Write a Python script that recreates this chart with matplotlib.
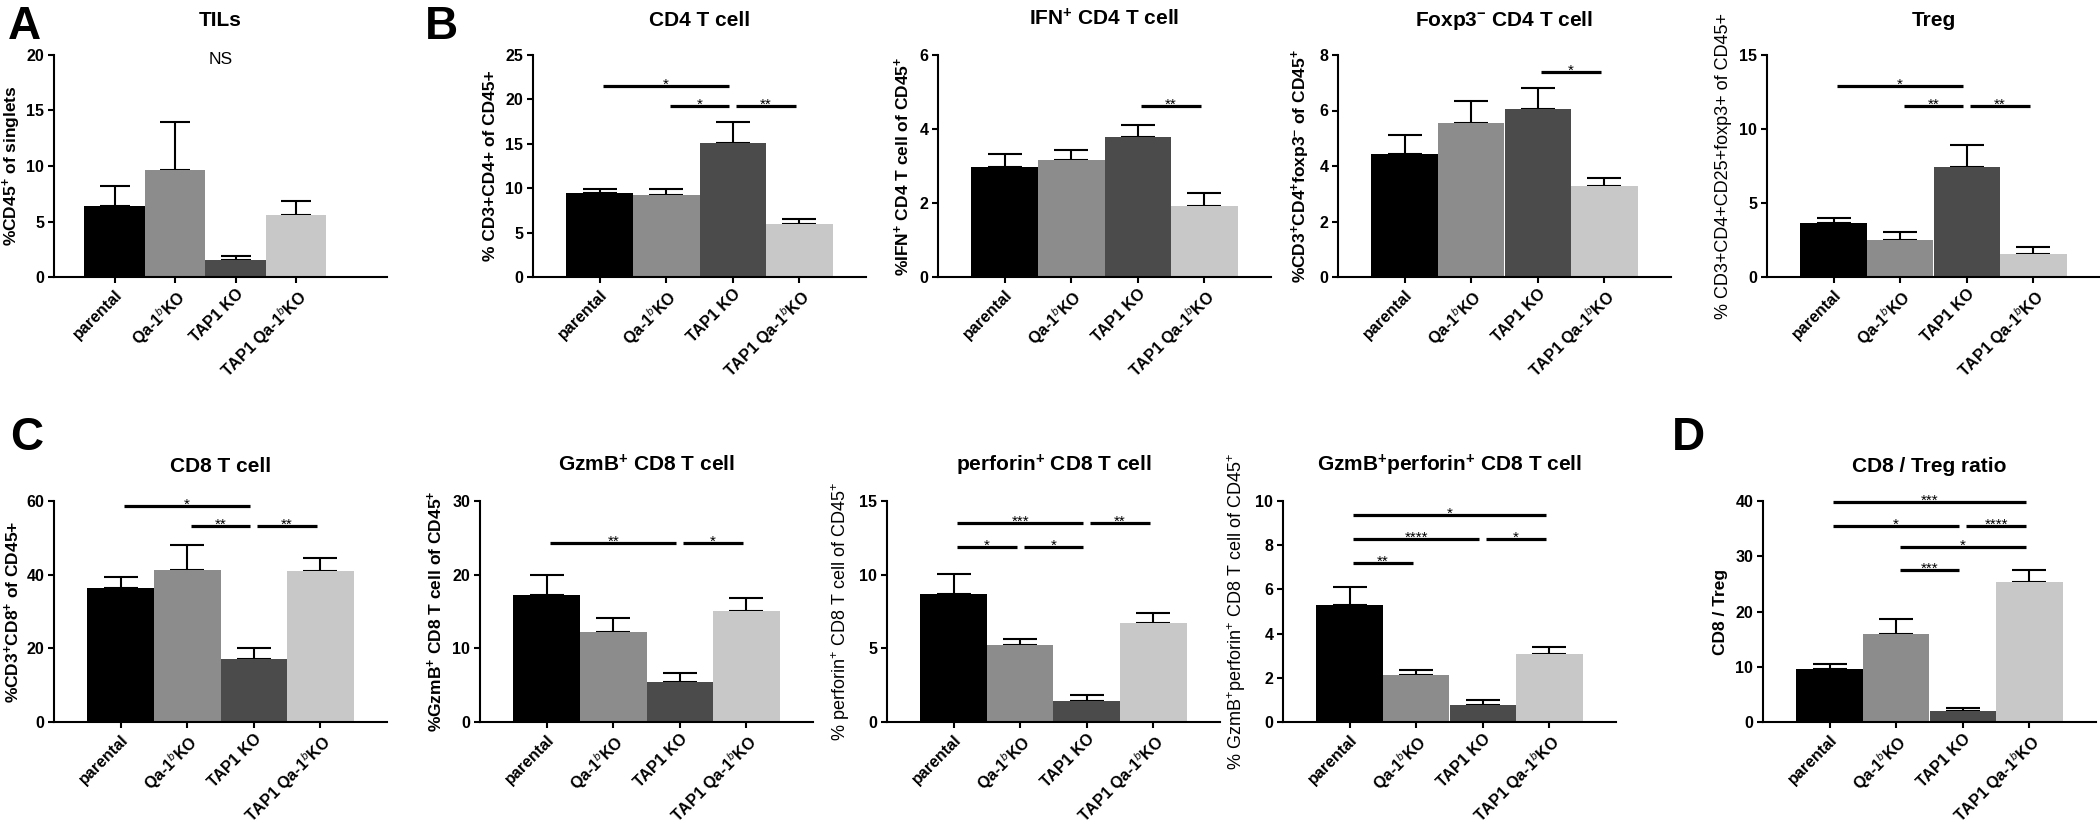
import matplotlib
matplotlib.use("Agg")
import matplotlib.pyplot as plt
import numpy as np

plt.rcParams["font.family"] = ["Liberation Sans", "DejaVu Sans"]
plt.rcParams["mathtext.fontset"] = "custom"
plt.rcParams["mathtext.rm"] = "Liberation Sans"
plt.rcParams["mathtext.bf"] = "Liberation Sans:bold"
plt.rcParams["mathtext.it"] = "Liberation Sans:italic"

groups = ["parental", r"Qa-1$^{b}$KO", "TAP1 KO", r"TAP1 Qa-1$^{b}$KO"]
bar_colors = ["#000000", "#8c8c8c", "#4b4b4b", "#c8c8c8"]

# mean / sem per panel
tils_mean = [6.38, 9.62, 1.56, 5.56]
tils_sem = [1.80, 4.38, 0.34, 1.27]

cd4_mean = [9.47, 9.21, 15.04, 5.94]
cd4_sem = [0.49, 0.75, 2.36, 0.56]
cd4_sig = [(0, 2, 21.5, "*"), (1, 2, 19.3, "*"), (2, 3, 19.3, "**")]

ifn_mean = [2.97, 3.17, 3.79, 1.92]
ifn_sem = [0.36, 0.25, 0.33, 0.34]
ifn_sig = [(2, 3, 4.62, "**")]

foxp3_mean = [4.42, 5.56, 6.04, 3.29]
foxp3_sem = [0.69, 0.77, 0.77, 0.27]
foxp3_sig = [(2, 3, 7.38, "*")]

treg_mean = [3.65, 2.53, 7.42, 1.56]
treg_sem = [0.37, 0.49, 1.51, 0.47]
treg_sig = [(0, 2, 12.9, "*"), (1, 2, 11.55, "**"), (2, 3, 11.55, "**")]

cd8_mean = [36.3, 41.2, 17.2, 41.1]
cd8_sem = [3.0, 6.9, 3.0, 3.5]
cd8_sig = [(0, 2, 58.7, "*"), (1, 2, 53.3, "**"), (2, 3, 53.3, "**")]

gzmb_mean = [17.3, 12.2, 5.4, 15.1]
gzmb_sem = [2.6, 1.9, 1.2, 1.7]
gzmb_sig = [(0, 2, 24.3, "**"), (2, 3, 24.3, "*")]

perf_mean = [8.66, 5.26, 1.43, 6.71]
perf_sem = [1.38, 0.34, 0.38, 0.72]
perf_sig = [(0, 2, 13.5, "***"), (2, 3, 13.5, "**"), (0, 1, 11.9, "*"), (1, 2, 11.9, "*")]

gp_mean = [5.30, 2.11, 0.76, 3.07]
gp_sem = [0.83, 0.25, 0.22, 0.31]
gp_sig = [(0, 3, 9.37, "*"), (0, 2, 8.29, "****"), (2, 3, 8.29, "*"), (0, 1, 7.19, "**")]

ratio_mean = [9.67, 16.0, 2.05, 25.4]
ratio_sem = [0.9, 2.6, 0.55, 2.1]
ratio_sig = [(0, 3, 39.76, "***"), (0, 2, 35.5, "*"), (2, 3, 35.5, "****"),
             (1, 3, 31.6, "*"), (1, 2, 27.5, "***")]

fig = plt.figure(figsize=(21, 8.24), dpi=100)
W, H = 2100, 824


def panel(left_px, top_px, bottom_px, title, ylabel, mean, sem, ymax, ystep,
          sig=(), xmax=4.0, label_bold=True, labelpad=5):
    ax = fig.add_axes([left_px / W, 1 - bottom_px / H, 333 / W, (bottom_px - top_px) / H])
    x = np.arange(len(mean))
    bar_px = 333 / (xmax + 1.0)
    ax.errorbar(x, mean, yerr=[np.zeros(len(sem)), sem], fmt="none", ecolor="black",
                elinewidth=1.5, capsize=0.25 * bar_px * 0.72, capthick=1.5, zorder=1)
    ax.bar(x, mean, width=1.0, color=bar_colors, linewidth=0, zorder=2)
    for i, j, y, lab in sig:
        ax.plot([i + 0.05, j - 0.05], [y, y], color="black", lw=2.3,
                solid_capstyle="butt", clip_on=False, zorder=3)
        ax.annotate(lab, ((i + j) / 2, y), xytext=(0, -2), textcoords="offset points",
                    ha="center", va="baseline", fontsize=11)
    ax.set_xlim(-1.0, xmax)
    ax.set_ylim(0, ymax)
    ax.set_yticks(np.arange(0, ymax + ystep / 2, ystep))
    ax.set_xticks(x)
    ax.set_xticklabels(groups)
    for side in ["top", "right"]:
        ax.spines[side].set_visible(False)
    for side in ["left", "bottom"]:
        ax.spines[side].set_linewidth(1.5)
    ax.tick_params(width=1.5, length=4, labelsize=11.5, pad=3)
    plt.setp(ax.get_xticklabels(), rotation=45, ha="right", rotation_mode="anchor",
             fontweight="bold")
    plt.setp(ax.get_yticklabels(), fontweight="bold")
    ax.set_title(title, fontsize=15, fontweight="bold", pad=21)
    if label_bold:
        ax.set_ylabel(ylabel, fontsize=12.5, fontweight="bold", labelpad=labelpad)
    else:
        ax.set_ylabel(ylabel, fontsize=13, labelpad=labelpad)
    return ax


# row 1
ax_a = panel(54, 55, 277, "TILs", r"%CD45$^{\mathbf{+}}$ of singlets",
             tils_mean, tils_sem, 20, 5, xmax=4.5, labelpad=2)
ax_a.text(1.76, 19.6, "NS", ha="center", va="center", fontsize=12.5)
panel(533, 55, 277, "CD4 T cell", "% CD3+CD4+ of CD45+",
      cd4_mean, cd4_sem, 25, 5, cd4_sig)
panel(938, 55, 277, r"IFN$^{\mathbf{+}}$ CD4 T cell",
      r"%IFN$^{\mathbf{+}}$ CD4 T cell of CD45$^{\mathbf{+}}$",
      ifn_mean, ifn_sem, 6, 2, ifn_sig)
panel(1338, 55, 277, r"Foxp3$^{\mathbf{-}}$ CD4 T cell",
      r"%CD3$^{\mathbf{+}}$CD4$^{\mathbf{+}}$foxp3$^{\mathbf{-}}$ of CD45$^{\mathbf{+}}$",
      foxp3_mean, foxp3_sem, 8, 2, foxp3_sig)
panel(1767, 55, 277, "Treg", "% CD3+CD4+CD25+foxp3+ of CD45+",
      treg_mean, treg_sem, 15, 5, treg_sig, label_bold=False)

# row 2
panel(54, 501, 722, "CD8 T cell", r"%CD3$^{\mathbf{+}}$CD8$^{\mathbf{+}}$ of CD45+",
      cd8_mean, cd8_sem, 60, 20, cd8_sig, labelpad=3)
panel(480, 501, 722, r"GzmB$^{\mathbf{+}}$ CD8 T cell",
      r"%GzmB$^{\mathbf{+}}$ CD8 T cell of CD45$^{\mathbf{+}}$",
      gzmb_mean, gzmb_sem, 30, 10, gzmb_sig)
panel(887, 501, 722, r"perforin$^{\mathbf{+}}$ CD8 T cell",
      r"% perforin$^{+}$ CD8 T cell of CD45$^{+}$",
      perf_mean, perf_sem, 15, 5, perf_sig, label_bold=False)
panel(1283, 501, 722, r"GzmB$^{\mathbf{+}}$perforin$^{\mathbf{+}}$ CD8 T cell",
      r"% GzmB$^{+}$perforin$^{+}$ CD8 T cell of CD45$^{+}$",
      gp_mean, gp_sem, 10, 2, gp_sig, label_bold=False)
panel(1763, 501, 722, "CD8 / Treg ratio", "CD8 / Treg",
      ratio_mean, ratio_sem, 40, 10, ratio_sig)

for letter, px, py in [("A", 8, 5), ("B", 425, 5), ("C", 10, 416), ("D", 1672, 416)]:
    fig.text(px / W, 1 - py / H, letter, ha="left", va="top", fontsize=33, fontweight="bold")

fig.savefig("out.png", dpi=100)
